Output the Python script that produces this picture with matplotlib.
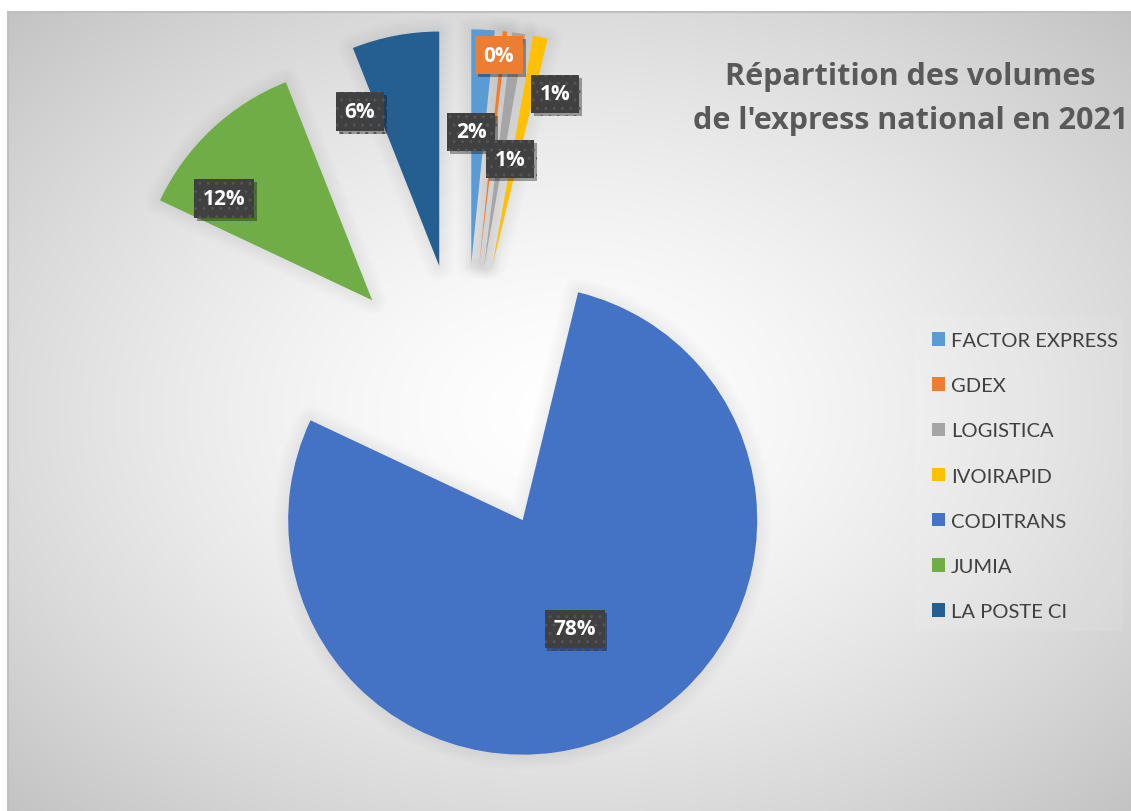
import numpy as np
import matplotlib
matplotlib.use("Agg")
import matplotlib.pyplot as plt
import matplotlib.patches as mpatches
import matplotlib.patheffects as pe

plt.rcParams['font.family'] = ['Lato', 'DejaVu Sans']
plt.rcParams['hatch.linewidth'] = 1.0

# ---- data ----
categories = ["FACTOR EXPRESS", "GDEX", "LOGISTICA", "IVOIRAPID", "CODITRANS", "JUMIA", "LA POSTE CI"]
shares = [1.6, 0.3, 0.9, 1.0, 78.2, 12.0, 6.0]
colors = ["#5B9BD5", "#ED7D31", "#A5A5A5", "#FFC000", "#4472C4", "#70AD47", "#255E91"]
title = "Répartition des volumes\nde l'express national en 2021"

# ---- layout (pixels) ----
W, H = 1131, 812
DPI = 100
cx_px, cy_px, r_px = 464.5, 399.5, 234.5
label_px = [(471, 133), (499, 56), (510, 160), (555, 95), (574.5, 630), (224, 199.5), (360, 112.5)]
BOLD = ['Open Sans', 'DejaVu Sans']

fig = plt.figure(figsize=(W / DPI, H / DPI), dpi=DPI)

# background: radial gradient chart area
bg = fig.add_axes([0, 0, 1, 1], zorder=0)
yy, xx = np.mgrid[0:H, 0:W]
x0, y0 = 8, 13
cxg, cyg = (x0 + W) / 2, (y0 + H) / 2
hw, hh = (W - x0) / 2, (H - y0) / 2
t = np.sqrt(((xx - cxg) / hw) ** 2 + ((yy - cyg) / hh) ** 2) / np.sqrt(2)
val = 255 - 60 * np.clip(t, 0, 1) ** 1.5
img = np.dstack([val, val, val]) / 255.0
img[:y0, :, :] = 1.0
img[:, :x0, :] = 1.0
bg.imshow(img, extent=(0, W, H, 0), interpolation="bilinear", aspect="auto")
bg.plot([x0, x0], [y0, H], color="#bfbfbf", lw=1.5)
bg.plot([x0, W], [y0, y0], color="#bfbfbf", lw=1.5)
bg.set_xlim(0, W)
bg.set_ylim(H, 0)
bg.axis("off")

# pie axes
ax = fig.add_axes([0, 0, 1, 1], zorder=1)
ax.patch.set_alpha(0)
wedges, _ = ax.pie(shares, colors=colors, startangle=90, counterclock=False,
                   explode=[0.575] * len(shares), radius=1,
                   wedgeprops=dict(linewidth=0))
for w in wedges:
    w.set_zorder(3)
    for lw in range(3, 24, 3):
        sh = mpatches.Wedge(w.center, w.r, w.theta1, w.theta2, fc="none", ec="k",
                            lw=lw, alpha=0.009, zorder=2, joinstyle="round")
        ax.add_patch(sh)
ax.set_xlim(-cx_px / r_px, (W - cx_px) / r_px)
ax.set_ylim((cy_px - H) / r_px, cy_px / r_px)
ax.set_aspect("auto")
ax.axis("off")

# data labels
total = sum(shares)
for i, (v, (px, py)) in enumerate(zip(shares, label_px)):
    txt = f"{v / total * 100:.0f}%"
    if categories[i] == "GDEX":
        bbox = dict(boxstyle="square,pad=0.42", fc="#ED7D31", ec="#ED7D31", lw=0)
    else:
        bbox = dict(boxstyle="square,pad=0.42", fc="#404040", ec="#545454", lw=0, hatch="..")
    tx = fig.text(px / W, 1 - py / H, txt, ha="center", va="center", color="white",
                  fontsize=15, fontweight="bold", family=BOLD, bbox=bbox, zorder=5)
    tx.get_bbox_patch().set_path_effects([
        pe.SimplePatchShadow(offset=(2, -2), shadow_rgbFace="k", alpha=0.35), pe.Normal()])

# title
fig.text(910.5 / W, 1 - 99 / H, title, ha="center", va="center", multialignment="center",
         fontsize=22, fontweight="bold", family=BOLD, color="#595959", linespacing=1.6, zorder=5)

# legend background
fig.patches.append(mpatches.Rectangle((915 / W, 1 - 632 / H), (1123 - 915) / W, (632 - 317) / H,
                                      transform=fig.transFigure, fc="white", alpha=0.08, ec="none", zorder=1))

leg = fig.legend(wedges, categories, loc="upper left",
                 bbox_to_anchor=(932 / W, 1 - 333 / H), frameon=False,
                 fontsize=14.5, handlelength=0.65, handleheight=0.65, handletextpad=0.3,
                 labelspacing=1.4, borderpad=0, borderaxespad=0, labelcolor="#404040")
leg.set_zorder(5)

fig.savefig("out.png", dpi=DPI)
